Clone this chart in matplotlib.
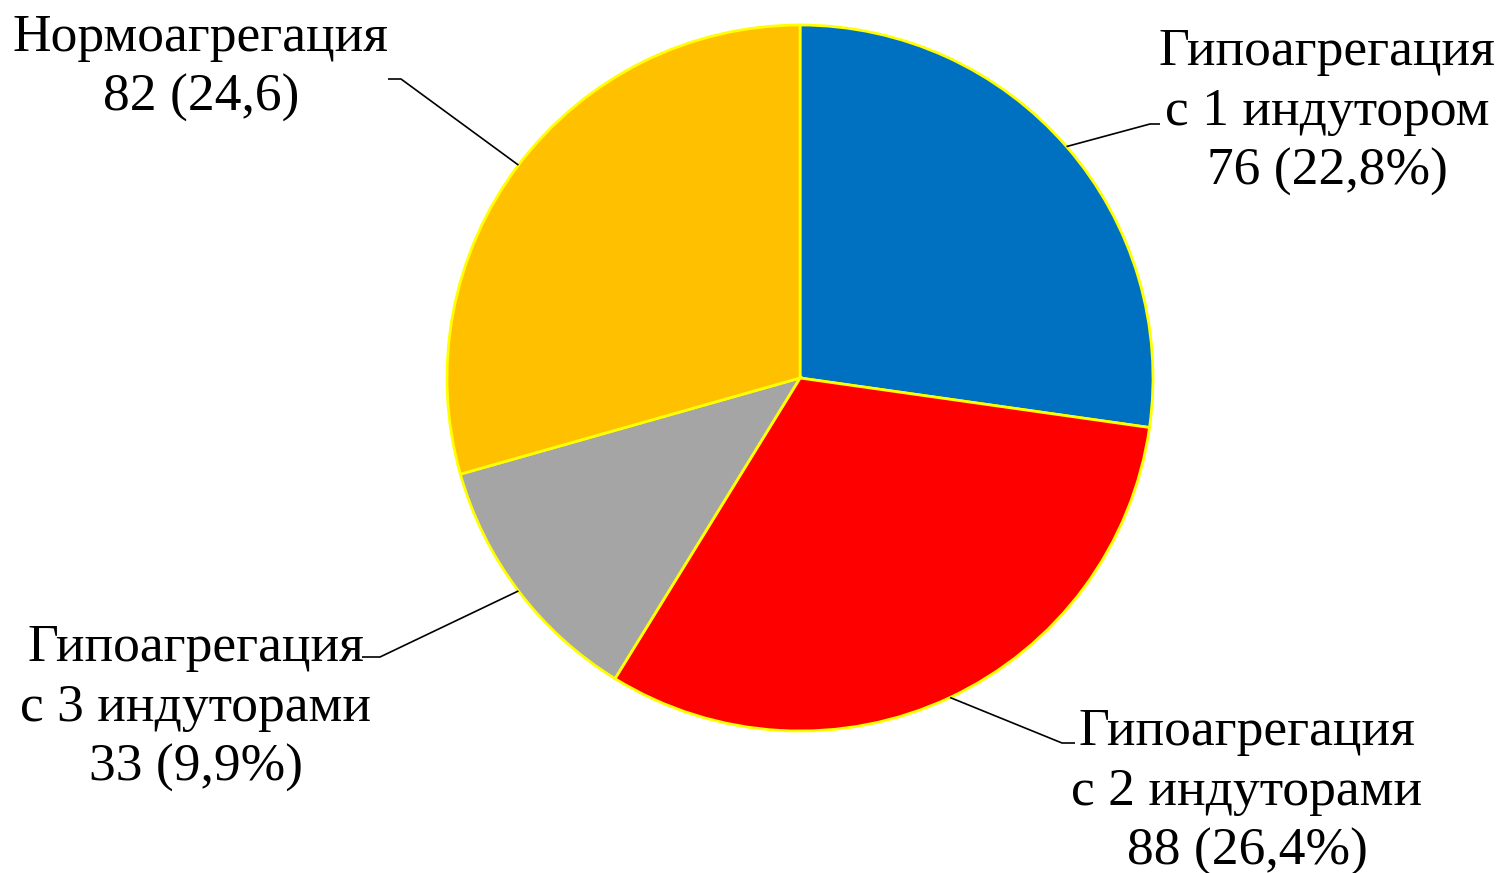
import numpy as np
import matplotlib.pyplot as plt

# распределение пациентов по типу агрегации тромбоцитов
labels = ['Гипоагрегация\nс 1 индутором\n76 (22,8%)',
          'Гипоагрегация\nс 2 индуторами\n88 (26,4%)',
          'Гипоагрегация\nс 3 индуторами\n33 (9,9%)',
          'Нормоагрегация\n82 (24,6)']
counts = [76, 88, 33, 82]
colors = ['#0070C0', '#FF0000', '#A5A5A5', '#FFC000']

W, H = 1501, 873
cx, cy, R = 800, H - 378, 353

# положение подписей (центр блока) и изломы выносок, в пикселях
text_xy = [(1327, H - 112), (1247, H - 792), (196, H - 708), (201, H - 68)]
elbow_xy = [(1150, H - 124), (1062, H - 743), (380, H - 657), (401, H - 79)]
end_xy = [(1160, H - 124), (1075, H - 743), (362, H - 657), (388, H - 79)]

plt.rc('font', family='Liberation Serif', size=38.5)

fig = plt.figure(figsize=(W / 100, H / 100), dpi=100)
ax = fig.add_axes([0, 0, 1, 1])

wedges, _ = ax.pie(counts, colors=colors, startangle=90, counterclock=False,
                   center=(cx, cy), radius=R, frame=True,
                   wedgeprops=dict(edgecolor='#FFFF00', linewidth=2))
ax.set_xlim(0, W)
ax.set_ylim(0, H)
ax.axis('off')

for w, lab, t, e, f in zip(wedges, labels, text_xy, elbow_xy, end_xy):
    a = np.deg2rad((w.theta1 + w.theta2) / 2)
    sx, sy = cx + R * np.cos(a), cy + R * np.sin(a)
    ax.plot([sx, e[0], f[0]], [sy, e[1], f[1]], color='black', lw=1.2,
            solid_capstyle='butt')
    ax.text(t[0], t[1], lab, ha='center', va='center', multialignment='center',
            linespacing=1.32)

fig.savefig('out.png', dpi=100)
